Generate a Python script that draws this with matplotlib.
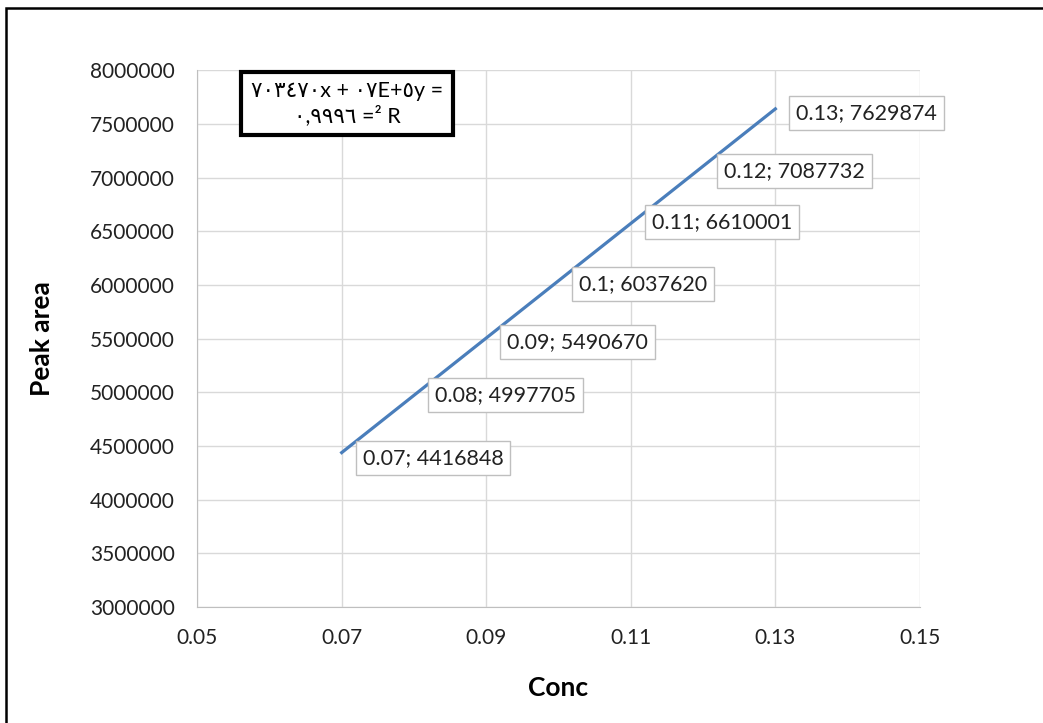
import matplotlib.pyplot as plt
import numpy as np
from matplotlib.patches import Rectangle

conc = [0.07, 0.08, 0.09, 0.1, 0.11, 0.12, 0.13]
peak_area = [4416848, 4997705, 5490670, 6037620, 6610001, 7087732, 7629874]
point_labels = ["0.07; 4416848", "0.08; 4997705", "0.09; 5490670", "0.1; 6037620",
                "0.11; 6610001", "0.12; 7087732", "0.13; 7629874"]
x_ticks = [0.05, 0.07, 0.09, 0.11, 0.13, 0.15]
y_ticks = list(range(3000000, 8000001, 500000))
equation = "٧٠٣٤٧٠x + ٠٧E+٥y =\n٠,٩٩٩٦ =² R"

fonts = ['Lato', 'DejaVu Sans']
plt.rcParams['font.family'] = fonts

fig = plt.figure(figsize=(10.43, 7.23), dpi=100)
ax = fig.add_axes([0.189, 0.1604, 0.693, 0.7426])

# outer chart border (only top and left visible)
fig.patches.append(Rectangle((0.006, -0.1), 1.2, 1.089, transform=fig.transFigure,
                             fill=False, edgecolor='black', linewidth=1.8))

# linear trendline through the points (Excel style)
slope, intercept = np.polyfit(conc, peak_area, 1)
xs = np.array([min(conc), max(conc)])
ax.plot(xs, slope * xs + intercept, color='#4a7ebb', linewidth=2.3)

for x, y, s in zip(conc, peak_area, point_labels):
    ax.annotate(s, (x, y), xytext=(15, -2), textcoords='offset points',
                ha='left', va='center', fontsize=15.5, color='#222222',
                bbox=dict(boxstyle='square,pad=0.32', facecolor='white',
                          edgecolor='#bfbfbf', linewidth=1))

ax.text(0.2075, 0.9376, equation, transform=ax.transAxes, ha='center', va='center',
        fontsize=15.5, family=fonts, linespacing=1.2,
        bbox=dict(boxstyle='square,pad=0.45', facecolor='white',
                  edgecolor='black', linewidth=3))

ax.set_xlim(0.05, 0.15)
ax.set_ylim(3000000, 8000000)
ax.set_xticks(x_ticks)
ax.set_xticklabels([str(t) for t in x_ticks])
ax.set_yticks(y_ticks)
ax.set_yticklabels([str(t) for t in y_ticks])
ax.tick_params(labelsize=15, colors='#222222', length=0, pad=16)
ax.tick_params(axis='x', pad=15)

ax.grid(True, color='#d9d9d9', linewidth=1)
ax.set_axisbelow(True)
for side in ['top', 'right']:
    ax.spines[side].set_visible(False)
for side in ['left', 'bottom']:
    ax.spines[side].set_color('#bfbfbf')

ax.set_xlabel("Conc", fontsize=19, fontweight='bold', labelpad=20)
ax.set_ylabel("Peak area", fontsize=19, fontweight='bold', labelpad=26)

fig.savefig("out.png", dpi=100)
